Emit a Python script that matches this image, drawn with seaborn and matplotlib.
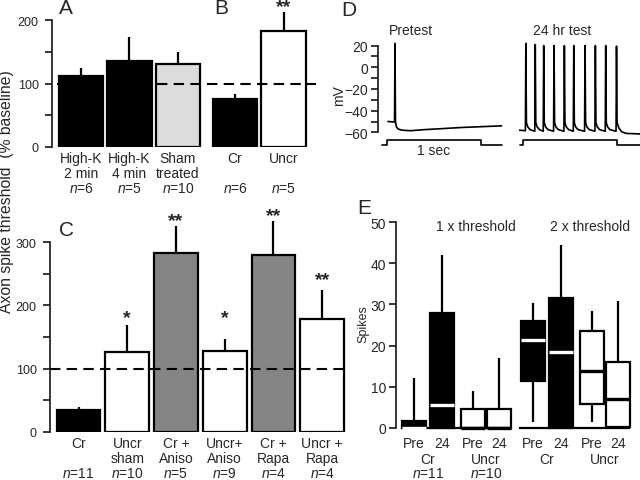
import numpy as np
import pandas as pd
import matplotlib
matplotlib.use('Agg')
import matplotlib.pyplot as plt
import seaborn as sns

# ---- Panel A: threshold after high-K / sham ----
a_labels = ['High-K\n2 min', 'High-K\n4 min', 'Sham\ntreated']
a_n = [6, 5, 10]
a_mean = [112, 136, 130]
a_err = [13, 38, 19]
a_colors = ['black', 'black', '#dcdcdc']

# ---- Panel B ----
b_labels = ['Cr\n ', 'Uncr\n ']
b_n = [6, 5]
b_mean = [76, 182]
b_err = [8, 30]
b_colors = ['black', 'white']
b_stars = ['', '**']
b_star_y = [0, 221]

# ---- Panel C ----
c_labels = ['Cr\n ', 'Uncr\nsham', 'Cr +\nAniso', 'Uncr+\nAniso', 'Cr +\nRapa', 'Uncr +\nRapa']
c_n = [11, 10, 5, 9, 4, 4]
c_mean = [35, 126, 282, 128, 280, 178]
c_err = [5, 43, 43, 19, 53, 46]
c_colors = ['black', 'white', '#858585', 'white', '#858585', 'white']
c_stars = ['', '*', '**', '*', '**', '**']
c_star_y = [0, 180, 334, 180, 342, 240]

# ---- Panel D: voltage traces (time in s, voltage in mV) ----
pre_t = [0.01, 0.08, 0.085, 0.09, 0.10, 0.12, 0.16, 0.25, 0.4, 0.6, 0.8, 1.0, 1.22]
pre_v = [-50, -50.5, 22, -50, -55, -57, -58, -58.5, -57.5, -56.5, -55.5, -54.8, -54]
pre_stim_t = [-0.05, 0, 0, 1.0, 1.0, 1.23]
pre_stim_v = [-71.5, -71.5, -67, -67, -71.5, -71.5]

post_t = [-0.04, 0.025, 0.03, 0.036, 0.05, 0.075,
          0.125, 0.13, 0.136, 0.15, 0.175,
          0.215, 0.22, 0.226, 0.24, 0.265,
          0.325, 0.33, 0.336, 0.35, 0.375,
          0.435, 0.44, 0.446, 0.46, 0.485,
          0.535, 0.54, 0.546, 0.56, 0.585,
          0.655, 0.66, 0.666, 0.68, 0.705,
          0.765, 0.77, 0.776, 0.79, 0.815,
          0.875, 0.88, 0.886, 0.90, 0.925,
          0.99, 0.995, 1.001, 1.02, 1.05, 1.1, 1.245]
post_v = [-58, -58.5, 22, -51, -55, -57.5,
          -59, 21, -51, -55, -57.5,
          -59, 20, -51, -55, -57.5,
          -59, 20, -51, -55, -57.5,
          -59, 20, -51, -55, -57.5,
          -59, 20, -51, -55, -57.5,
          -59, 20, -51, -55, -57.5,
          -59, 20, -51, -55, -57.5,
          -59, 20, -51, -55, -57.5,
          -59, 19.5, -51, -56, -59.5, -61, -61.5]
post_stim_t = [-0.035, 0, 0, 1.0, 1.0, 1.245]
post_stim_v = [-71.5, -71.5, -67, -67, -71.5, -71.5]

# ---- Panel E: spike counts (box summaries) ----
e_group = ['Cr', 'Cr', 'Uncr', 'Uncr', 'Cr', 'Cr', 'Uncr', 'Uncr']
e_time = ['Pre', '24', 'Pre', '24', 'Pre', '24', 'Pre', '24']
e_low = [0, 0, 0, 0, 1.5, 0, 1.5, 0]
e_q1 = [0, 0, 0, 0, 11.4, 0, 5.8, 0.2]
e_med = [0, 5.6, 0, 0, 21.3, 18.5, 13.8, 7]
e_q3 = [1.7, 27.8, 4.6, 4.6, 26, 31.5, 23.5, 16]
e_high = [12, 42, 9, 17, 30.3, 44.5, 28.3, 30.8]
e_n = [11, 10]

sns.set_style('ticks')
plt.rcParams['font.family'] = ['Liberation Sans', 'DejaVu Sans']
plt.rcParams['mathtext.fontset'] = 'custom'
plt.rcParams['mathtext.it'] = 'Liberation Sans:italic'
plt.rcParams['mathtext.rm'] = 'Liberation Sans'
plt.rcParams['font.size'] = 10

W, H = 640, 481
fig = plt.figure(figsize=(6.4, 4.81), dpi=100)


def rect(x0, y0, x1, y1):
    return [x0 / W, 1 - y1 / H, (x1 - x0) / W, (y1 - y0) / H]


DASH = (0, (5, 3))


def bar_panel(ax, labels, n, mean, err, colors, width):
    df = pd.DataFrame({'label': labels, 'mean': mean})
    sns.barplot(data=df, x='label', y='mean', hue='label', palette=colors,
                legend=False, saturation=1, edgecolor='black', linewidth=1.6,
                width=width, errorbar=None, ax=ax)
    pos = np.arange(len(labels))
    ax.vlines(pos, mean, np.array(mean) + np.array(err), color='black', lw=1.6)
    ax.set_xticks(pos)
    ax.set_xticklabels([f'{l}\n$n$={k}' for l, k in zip(labels, n)],
                       fontsize=10, linespacing=1.1)
    ax.tick_params(axis='x', length=0, pad=3)
    ax.set_xlabel('')
    ax.set_ylabel('')
    ax.patch.set_visible(False)
    for s in ['top', 'right', 'bottom']:
        ax.spines[s].set_visible(False)


# ---- A ----
axA = fig.add_axes(rect(52, 11.5, 205, 148))
bar_panel(axA, a_labels, a_n, a_mean, a_err, a_colors, 0.92)
axA.set_xlim(-0.6, 2.56)
axA.set_ylim(0, 215)
axA.spines['left'].set_bounds(0, 200)
axA.spines['left'].set_linewidth(1.3)
axA.set_yticks([0, 100, 200])
axA.set_yticks([50, 150], minor=True)
axA.tick_params(axis='y', which='both', length=5, width=1.3, labelsize=9, pad=4.5)
axA.plot([-0.5, 4.86], [100, 100], ls=DASH, color='black', lw=1.5, clip_on=False, zorder=5)
axA.set_zorder(3)

# ---- B ----
axB = fig.add_axes(rect(205, 11.5, 320, 148))
bar_panel(axB, b_labels, b_n, b_mean, b_err, b_colors, 0.92)
axB.set_xlim(-0.62, 1.75)
axB.set_ylim(0, 215)
axB.spines['left'].set_visible(False)
axB.set_yticks([])
for i, s in enumerate(b_stars):
    if s:
        axB.text(i, b_star_y[i], s, ha='center', va='center', fontsize=14, fontweight='bold')

# ---- C ----
axC = fig.add_axes(rect(50, 214.6, 348, 433))
bar_panel(axC, c_labels, c_n, c_mean, c_err, c_colors, 0.9)
axC.set_xlim(-0.585, 5.53)
axC.set_ylim(0, 345)
axC.spines['left'].set_bounds(0, 300)
axC.spines['left'].set_linewidth(1.3)
axC.set_yticks([0, 100, 200, 300])
axC.set_yticks([50, 150, 250], minor=True)
axC.tick_params(axis='y', which='both', length=5, width=1.3, labelsize=9, pad=4.5)
axC.plot([-0.585, 5.47], [100, 100], ls=DASH, color='black', lw=1.5, zorder=5)
for i, s in enumerate(c_stars):
    if s:
        axC.text(i, c_star_y[i], s, ha='center', va='center', fontsize=14, fontweight='bold')

fig.text(7 / W, 1 - 192 / H, 'Axon spike threshold  (% baseline)', rotation=90,
         ha='center', va='center', fontsize=11.3)

# ---- D ----
axD1 = fig.add_axes(rect(378, 41.2, 510, 149.6))
axD2 = fig.add_axes(rect(519, 41.2, 640, 149.6))
sns.lineplot(x=pre_t, y=pre_v, ax=axD1, color='black', lw=1.2, sort=False, estimator=None)
sns.lineplot(x=pre_stim_t, y=pre_stim_v, ax=axD1, color='black', lw=1.2, sort=False, estimator=None)
sns.lineplot(x=post_t, y=post_v, ax=axD2, color='black', lw=1.2, sort=False, estimator=None)
sns.lineplot(x=post_stim_t, y=post_stim_v, ax=axD2, color='black', lw=1.2, sort=False, estimator=None)
axD1.set_xlim(-0.096, 1.31)
axD2.set_xlim(-0.043, 1.245)
for ax in (axD1, axD2):
    ax.set_ylim(-75, 25)
    ax.patch.set_visible(False)
    for s in ['top', 'right', 'bottom']:
        ax.spines[s].set_visible(False)
    ax.set_xticks([])
axD2.spines['left'].set_visible(False)
axD2.set_yticks([])
axD1.spines['left'].set_bounds(-60, 20)
axD1.spines['left'].set_linewidth(1.3)
axD1.set_yticks([-60, -40, -20, 0, 20])
axD1.set_yticks([-50, -30, -10, 10], minor=True)
axD1.tick_params(axis='y', which='both', length=5, width=1.3, labelsize=10, pad=2)
axD1.set_ylabel('mV', fontsize=10, labelpad=-1)
axD1.text(0.5, -69.5, '1 sec', ha='center', va='top', fontsize=10)
axD1.text(0.25, 28, 'Pretest', ha='center', va='bottom', fontsize=10)
axD2.text(0.42, 28, '24 hr test', ha='center', va='bottom', fontsize=10)

# ---- E ----
axE = fig.add_axes(rect(396, 214.8, 640, 433))
e_pos = [0, 1, 2.1, 3.05, 4.25, 5.25, 6.35, 7.3]
for i in range(len(e_pos)):
    vals = [e_low[i], e_q1[i], e_med[i], e_q3[i], e_high[i]]
    black = e_group[i] == 'Cr'
    sns.boxplot(x=[e_pos[i]] * 5, y=vals, native_scale=True, orient='x', ax=axE,
                width=0.86, whis=(0, 100), color='black' if black else 'white',
                linecolor='black', linewidth=1.6, saturation=1, showcaps=False,
                medianprops={'color': 'white' if black else 'black', 'linewidth': 2.4},
                whiskerprops={'linewidth': 1.6})
axE.hlines(0, -0.45, 3.5, color='black', lw=1.6)
axE.hlines(0, 3.75, 7.72, color='black', lw=1.6)
axE.set_xlim(-0.64, 8.07)
axE.set_ylim(-1, 52)
axE.patch.set_visible(False)
for s in ['top', 'right', 'bottom']:
    axE.spines[s].set_visible(False)
axE.spines['left'].set_bounds(0, 50)
axE.spines['left'].set_linewidth(1.3)
axE.set_yticks([0, 10, 20, 30, 40, 50])
axE.tick_params(axis='y', length=5, width=1.3, labelsize=10, pad=2)
axE.set_xticks(e_pos)
axE.set_xticklabels(e_time, fontsize=10)
axE.tick_params(axis='x', length=0, pad=3)
axE.set_ylabel('Spikes', fontsize=9, labelpad=1)
tr = axE.get_xaxis_transform()
grp_x = [0.5, 2.575, 4.75, 6.825]
grp_lab = ['Cr', 'Uncr', 'Cr', 'Uncr']
for gx, gl in zip(grp_x, grp_lab):
    axE.text(gx, -0.122, gl, transform=tr, ha='center', va='center', fontsize=10)
for gx, k in zip(grp_x[:2], e_n):
    axE.text(gx, -0.188, f'$n$={k}', transform=tr, ha='center', va='center', fontsize=10)
axE.text(2.2, 49, '1 x threshold', ha='center', va='center', fontsize=10)
axE.text(6.3, 49, '2 x threshold', ha='center', va='center', fontsize=10)

# panel letters
for lab, x, y in [('A', 66, 9), ('B', 221, 9), ('C', 66, 231), ('D', 349, 10), ('E', 364, 208)]:
    fig.text(x / W, 1 - y / H, lab, ha='center', va='center', fontsize=15)

fig.savefig('out.png', dpi=100)
